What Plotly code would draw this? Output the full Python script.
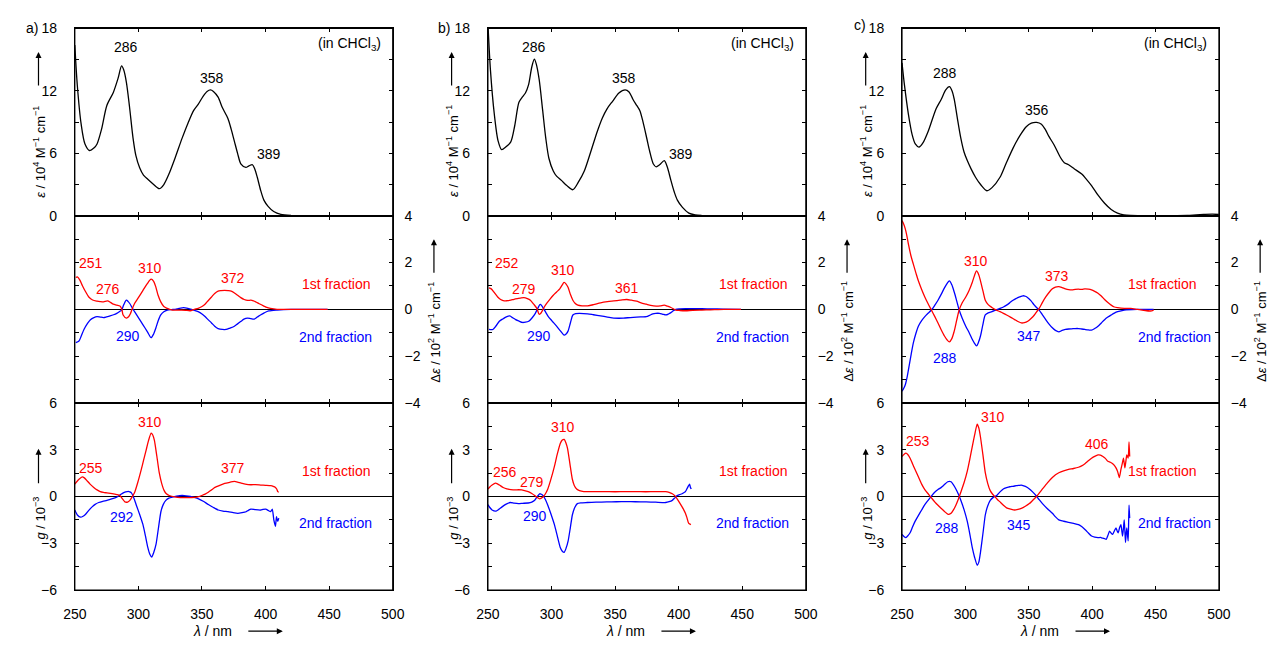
import plotly.graph_objects as go

# ---------------- DATA (wavelength nm, value) ----------------
a_abs = [(250,16.4),(252,12.5),(255,8.8),(258,6.9),(261.6,6.27),(265,6.5),(267.5,6.9),(271,8.3),(275.2,10.6),
         (280.3,11.85),(284,13.2),(286.8,14.4),(288.5,14.0),(290.6,12.8),(293,10.5),(295.8,7.46),(298,5.8),
         (301,4.6),(304,3.9),(307.4,3.5),(312,3.0),(316.4,2.6),(320,3.0),(324,4.0),(329,5.6),(334.4,7.46),
         (339,8.9),(343.4,10.1),(347,10.7),(351,11.5),(354,11.95),(356.7,12.1),(359,11.95),(362.7,11.4),
         (366,10.4),(370.4,9.35),(373,8.3),(375.5,7.15),(378,6.0),(380.7,4.95),(384.5,4.64),(387,4.8),
         (389.7,4.9),(391.5,4.5),(393.5,3.7),(396,2.5),(398.7,1.5),(402,0.9),(406.4,0.4),(412,0.12),(420,0.02)]
b_abs = [(250,18.5),(252,14.0),(255,9.8),(258,7.2),(260.8,6.36),(264,6.6),(268,7.1),(271,8.6),(274.4,10.9),
         (277,11.4),(279.5,11.8),(282,12.6),(284.5,14.3),(286.5,15.05),(288,14.6),(290.3,13.1),(293,10.2),
         (295.5,7.46),(298,5.5),(301.4,4.3),(304,3.8),(307.8,3.4),(312,2.9),(316.8,2.5),(321,3.2),(325.8,4.3),
         (331,6.2),(336,8.1),(340,9.4),(343.8,10.3),(348,11.0),(353,11.8),(357.9,12.1),(361,11.9),(364,11.2),
         (367,10.6),(369.5,10.1),(372,9.0),(375,7.4),(377.2,6.2),(380,5.0),(382.3,4.7),(385,4.9),(388.7,5.3),
         (391,4.7),(393.9,3.4),(396.5,2.3),(399,1.5),(403,0.8),(408,0.25),(413,0.08),(418,0.02)]
c_abs = [(250,14.7),(252,12.5),(255,9.8),(258,7.8),(260.5,6.9),(263.4,6.6),(266.5,7.0),(270.6,8.1),(274,9.3),
         (277,10.3),(281,11.2),(284.5,12.1),(287.4,12.4),(289.5,12.0),(291.2,11.2),(293.5,9.5),(296.4,7.46),
         (299,6.1),(301.5,5.3),(304.5,4.5),(308,3.7),(312,3.0),(317,2.4),(321,2.7),(327.3,3.7),(332,5.0),
         (337.6,6.5),(343,7.7),(348,8.56),(352,8.9),(356.2,8.97),(360,8.8),(363,8.3),(366,7.6),(370,6.8),
         (375,5.6),(378,5.1),(381.4,4.9),(386,4.5),(391.8,4.0),(395.5,3.5),(399.5,2.9),(404.5,2.0),(409.8,1.2),
         (415,0.6),(420,0.25),(425,0.08),(430.4,0.02),(440,0.0),(460,0.0),(475,0.02),(482,0.08),(488,0.12),
         (494.8,0.15),(500,0.12)]

a_cd_1st = [(250.8,1.36),(252,1.39),(254,1.25),(256,1.01),(258.5,0.75),(261,0.53),(264,0.4),(267.5,0.35),
            (270,0.33),(272.6,0.32),(275.7,0.36),(278,0.3),(280.3,0.22),(283,0.18),(285.5,0.14),(287,0.0),
            (288,-0.24),(290.6,-0.375),(292.3,-0.32),(293.7,-0.19),(295,0.0),(297,0.25),(300,0.5),(303.5,0.8),
            (307,1.1),(310,1.29),(312,1.2),(313.8,0.94),(315.5,0.6),(317.6,0.32),(320,0.12),(322.8,0.04),
            (326,-0.02),(329,-0.03),(334,-0.03),(337,-0.04),(340.8,-0.06),(344,0.0),(347,0.04),(350,0.12),
            (352.4,0.22),(355,0.38),(357.5,0.53),(360,0.68),(362.7,0.78),(365,0.8),(367.8,0.81),(370.5,0.8),
            (373,0.78),(375.5,0.7),(378,0.6),(380.5,0.5),(383.2,0.42),(386,0.38),(388.4,0.39),(390.5,0.36),
            (392.2,0.32),(395,0.24),(398.7,0.14),(401,0.08),(403.8,0.04),(409,0.0),(420,0.0),(435,0.0),(448.8,0.0)]
a_cd_2nd = [(250.8,-1.42),(253.3,-1.35),(255,-1.15),(257.2,-0.86),(260,-0.6),(262.3,-0.44),(265,-0.35),
            (267.5,-0.31),(270,-0.33),(272.6,-0.35),(275,-0.32),(277.8,-0.28),(280.5,-0.23),(283,-0.17),
            (285,-0.1),(286.8,-0.03),(288.5,0.2),(290.6,0.39),(292,0.33),(293.2,0.25),(295,0.08),(297,-0.1),
            (300,-0.35),(303.5,-0.65),(307,-0.95),(310,-1.21),(312,-1.05),(313.8,-0.79),(315.5,-0.5),
            (317.6,-0.24),(320,-0.1),(322.8,-0.03),(326,-0.01),(329,0.0),(332,0.04),(335.6,0.07),(338,0.05),
            (340.8,0.01),(344,-0.04),(347,-0.1),(350,-0.2),(352.4,-0.31),(355,-0.45),(357.5,-0.58),(360,-0.72),
            (362.7,-0.82),(366,-0.86),(369,-0.86),(372,-0.8),(375.5,-0.72),(378,-0.62),(380.7,-0.51),(383,-0.42),
            (385.8,-0.375),(388.5,-0.4),(391,-0.42),(393.5,-0.33),(396,-0.24),(399,-0.15),(402.5,-0.07),
            (409,-0.03),(420,0.0),(435,0.0),(448.8,0.0)]
b_cd_1st = [(250.8,0.92),(252.6,0.875),(255,0.72),(257.7,0.53),(260,0.42),(262.8,0.36),(265.5,0.37),(268,0.39),
            (270.5,0.43),(273.1,0.46),(275.5,0.48),(278.3,0.5),(281,0.46),(283.4,0.39),(286,0.22),(288.5,0.04),
            (290.3,-0.21),(291.4,-0.18),(292.4,-0.1),(294,0.07),(296.2,0.25),(299,0.45),(301.4,0.6),(304,0.74),
            (306.5,0.875),(308.5,1.05),(309.9,1.15),(311.5,1.08),(313,0.94),(315,0.62),(316.8,0.39),(318.5,0.26),
            (320.7,0.18),(324,0.15),(328.4,0.15),(333,0.2),(338.6,0.28),(344,0.33),(349,0.36),(354,0.39),
            (359.2,0.42),(363,0.39),(366.9,0.35),(370.5,0.28),(374.6,0.22),(378,0.17),(382.3,0.14),(385.5,0.15),
            (388.7,0.18),(391,0.14),(393.9,0.08),(397.7,-0.03),(401,-0.05),(405.4,-0.06),(411,-0.04),
            (418.3,-0.03),(425,-0.02),(431.1,-0.01),(440,0.0),(449,0.0)]
b_cd_2nd = [(250.8,-0.86),(253.9,-0.86),(256.5,-0.7),(259,-0.51),(262,-0.4),(264.5,-0.32),(267.2,-0.28),
            (269.5,-0.36),(271.8,-0.44),(274.5,-0.5),(277,-0.56),(279.5,-0.55),(282.1,-0.51),(284.5,-0.38),
            (287.3,-0.17),(289.3,0.05),(291.1,0.21),(292.4,0.15),(293.7,0.04),(295.5,-0.13),(297.5,-0.31),
            (300.5,-0.5),(304,-0.72),(307,-0.92),(309.9,-1.1),(311.5,-1.05),(313,-0.93),(315,-0.55),(316.8,-0.24),
            (319,-0.18),(322,-0.17),(328.4,-0.19),(333,-0.23),(338.6,-0.28),(344,-0.33),(349,-0.375),(353,-0.38),
            (356.6,-0.375),(362,-0.35),(366.9,-0.33),(371,-0.32),(374.6,-0.31),(377,-0.26),(379.7,-0.19),
            (382,-0.17),(384.9,-0.17),(387.5,-0.21),(390,-0.24),(392,-0.2),(393.9,-0.14),(395.8,-0.06),
            (397.7,0.0),(401,0.02),(405.4,0.03),(412,0.03),(418.3,0.03),(425,0.02),(435,0.01),(449,0.0)]
c_cd_1st = [(250,3.79),(251.3,3.65),(252.6,3.44),(254,3.1),(255.2,2.75),(257,2.3),(259,1.92),(261,1.55),
            (262.9,1.22),(265.5,0.85),(268,0.53),(270.5,0.25),(273.2,-0.03),(275.8,-0.3),(278.4,-0.58),(281,-0.88),
            (283.5,-1.14),(285.5,-1.3),(287.4,-1.39),(289.3,-1.25),(291.2,-0.93),(293.2,-0.45),(295.1,-0.03),
            (297.5,0.28),(300.3,0.53),(303,0.82),(305.4,1.15),(307.2,1.45),(308.8,1.64),(310.4,1.5),(311.9,1.22),
            (313.8,0.8),(315.7,0.39),(318,0.2),(320.9,0.08),(324,-0.02),(327.3,-0.1),(330,-0.17),(332.5,-0.24),
            (335.5,-0.33),(338.9,-0.44),(341.5,-0.52),(344.1,-0.58),(346.5,-0.57),(349.2,-0.51),(352,-0.38),
            (354.4,-0.24),(356.3,-0.1),(358.2,0.04),(360.8,0.3),(363.4,0.53),(366,0.72),(368.6,0.875),(371,0.95),
            (373.7,0.97),(376.3,0.93),(378.9,0.875),(381.5,0.84),(384,0.83),(386.6,0.85),(389.2,0.86),
            (391.8,0.85),(394.3,0.875),(397,0.86),(399.5,0.83),(402,0.77),(404.6,0.69),(407.2,0.57),(409.8,0.42),
            (412.4,0.29),(415,0.18),(417.5,0.1),(420.1,0.07),(425.3,0.04),(430.4,0.04),(435.6,0.0),
            (440.7,-0.04),(445.9,-0.07),(448.5,-0.03)]
c_cd_2nd = [(250,-3.5),(251.3,-3.38),(252.6,-3.22),(254.2,-2.85),(255.7,-2.39),(257.3,-1.9),(259,-1.42),
            (261,-1.02),(262.9,-0.72),(265.5,-0.48),(268,-0.31),(270.5,-0.17),(273.2,-0.03),(275.8,0.17),
            (278.4,0.39),(281,0.65),(283.5,0.92),(285.5,1.1),(287.4,1.22),(289.3,1.05),(291.2,0.74),(293.2,0.35),
            (295.1,-0.03),(297.5,-0.38),(300.3,-0.72),(303,-1.0),(305.4,-1.28),(307.2,-1.45),(308.8,-1.56),
            (310.4,-1.4),(311.9,-1.14),(313.8,-0.65),(315.7,-0.24),(318,-0.15),(320.9,-0.1),(324,-0.03),
            (327.3,0.04),(330,0.1),(332.5,0.18),(335,0.28),(337.6,0.39),(340.2,0.47),(342.8,0.53),(345.4,0.58),
            (347.3,0.56),(349.2,0.5),(351.8,0.36),(354.4,0.18),(356.3,0.07),(358.2,-0.03),(360.8,-0.24),
            (363.4,-0.44),(366,-0.63),(368.6,-0.79),(371,-0.9),(373.7,-0.96),(376.3,-0.9),(378.9,-0.86),
            (381.5,-0.84),(384,-0.83),(386.6,-0.82),(389.2,-0.82),(391.8,-0.84),(394.3,-0.86),(397,-0.88),
            (399.5,-0.89),(402,-0.82),(404.6,-0.72),(407.2,-0.58),(409.8,-0.44),(412.4,-0.33),(415,-0.24),
            (417.5,-0.16),(420.1,-0.1),(425.3,-0.03),(435.6,0.0),(448.5,0.0)]

a_g_1st = [(250,0.8),(251.5,0.95),(253.3,1.11),(255.9,1.26),(257.5,1.2),(259.8,1.0),(262,0.8),(264.9,0.59),
           (267.5,0.43),(270,0.32),(272.5,0.27),(275.2,0.24),(278,0.21),(280.4,0.18),(283,0.13),(285.5,0.07),
           (287.5,-0.15),(289.4,-0.34),(291.5,-0.35),(293.3,-0.24),(295.2,0.0),(297.1,0.28),(299.5,0.9),
           (302.3,1.74),(304,2.3),(306.1,2.98),(308,3.6),(310,4.07),(311.3,3.95),(312.6,3.6),(314.5,2.6),
           (316.4,1.53),(318.3,0.85),(320.3,0.38),(322,0.18),(324.2,0.07),(329.3,-0.03),(333,-0.06),(337,-0.07),
           (341,-0.06),(344.7,-0.05),(347.5,0.0),(349.9,0.07),(352.5,0.16),(355,0.28),(357.5,0.43),(360.2,0.59),
           (364,0.72),(367.9,0.84),(371,0.9),(375.6,0.97),(378,0.93),(380.8,0.86),(384,0.8),(388.5,0.76),
           (392,0.77),(396.2,0.74),(400,0.72),(404,0.7),(406,0.66),(407.8,0.59),(409,0.45),(409.6,0.32),
           (410.4,0.28)]
a_g_2nd = [(250,-0.86),(252,-1.18),(254.6,-1.32),(256.5,-1.26),(258.5,-1.13),(261,-0.88),(263.6,-0.66),
           (266,-0.5),(268.8,-0.38),(272,-0.3),(275.2,-0.24),(279,-0.15),(283,-0.03),(285.5,0.1),(288.1,0.24),
           (290,0.3),(292,0.34),(293.3,0.3),(294.5,0.24),(296.5,-0.1),(298.4,-0.55),(301,-1.15),(303.6,-1.8),
           (305.5,-2.5),(307.4,-3.26),(309,-3.7),(310.5,-3.88),(312,-3.6),(313.9,-3.05),(315.8,-2.0),
           (317.7,-0.97),(319.6,-0.5),(321.6,-0.24),(324,-0.1),(326.7,-0.03),(330,0.03),(334.4,0.07),
           (337.5,0.05),(340.9,0.01),(344,-0.05),(347.3,-0.14),(351,-0.3),(355,-0.51),(359,-0.7),(362.8,-0.86),
           (366.5,-0.93),(370.5,-0.97),(374.5,-1.03),(378.2,-1.07),(381.5,-1.03),(384.7,-0.97),(386.5,-0.88),
           (388.5,-0.8),(392,-0.84),(396.2,-0.86),(398,-0.82),(400.1,-0.8),(402,-0.88),(404,-0.97),(405.3,-0.8),
           (406.5,-1.49),(407.8,-1.9),(408.6,-1.28),(409.6,-1.59),(410.4,-1.38)]
b_g_1st = [(250,0.49),(251.5,0.62),(253.3,0.74),(255.9,0.86),(257.5,0.82),(259.8,0.7),(262,0.58),(264.9,0.49),
           (268,0.45),(271.4,0.43),(274,0.44),(276.5,0.43),(279,0.38),(281.7,0.32),(284.5,0.2),(286.8,0.07),
           (288.8,-0.06),(290.7,-0.14),(292,-0.1),(293.3,-0.03),(295,0.15),(297.1,0.49),(299.5,1.1),(302.3,1.94),
           (304.5,2.7),(306.9,3.4),(308.5,3.62),(310,3.67),(311.3,3.45),(312.6,3.09),(314.5,2.1),(316.4,1.11),
           (318,0.7),(319.8,0.49),(322,0.38),(325.4,0.32),(333,0.32),(340.9,0.32),(350,0.31),(358,0.32),
           (366.6,0.32),(374,0.31),(382,0.32),(389.8,0.32),(392.5,0.27),(395,0.18),(397,0.05),(398.8,-0.14),
           (400.8,-0.4),(402.7,-0.66),(404,-0.85),(405.3,-1.07),(406.5,-1.35),(407.8,-1.7),(409.6,-1.8)]
b_g_2nd = [(250,-0.51),(251.5,-0.7),(253.3,-0.86),(256.4,-0.93),(258.5,-0.82),(261.1,-0.66),(264,-0.5),
           (267.5,-0.38),(270.5,-0.42),(273.9,-0.45),(277.5,-0.43),(281.7,-0.41),(284.5,-0.35),(286.8,-0.24),
           (288.8,0.0),(290.7,0.18),(292,0.15),(293.3,0.07),(295,-0.15),(297.1,-0.55),(299.5,-1.1),(302.3,-1.8),
           (304.5,-2.5),(306.9,-3.26),(308.5,-3.5),(310,-3.57),(311.5,-3.3),(313.1,-2.84),(314.8,-2.0),
           (316.4,-1.18),(318.3,-0.7),(320.3,-0.45),(323,-0.4),(328,-0.38),(335,-0.36),(343.5,-0.34),(351,-0.33),
           (358.9,-0.32),(366,-0.33),(374.4,-0.34),(382,-0.36),(389.8,-0.38),(392.5,-0.33),(395,-0.24),
           (397,-0.08),(398.8,0.07),(400.5,0.12),(402.7,0.18),(404,0.25),(405.3,0.32),(406.5,0.5),(407.8,0.7),
           (408.6,0.8),(409.2,0.6),(409.9,0.49)]
c_g_1st = [(250,2.57),(251.5,2.7),(253.1,2.78),(254.7,2.68),(256.4,2.46),(258.3,2.1),(260.3,1.74),(263,1.25),
           (265.5,0.8),(268,0.45),(270.6,0.18),(273.2,-0.08),(275.8,-0.34),(278.4,-0.56),(281,-0.76),
           (283.5,-0.95),(286.1,-1.13),(287.5,-1.12),(288.7,-1.07),(290.6,-0.85),(292.5,-0.55),(294.5,-0.15),
           (296.4,0.28),(299,0.9),(301.5,1.63),(303.5,2.4),(305.4,3.19),(307.3,3.95),(309.3,4.65),(310.6,4.4),
           (311.9,3.82),(313.8,2.7),(315.7,1.53),(317.6,0.85),(319.6,0.38),(321.5,0.15),(323.5,-0.03),
           (325.4,-0.2),(327.3,-0.34),(330,-0.55),(332.5,-0.72),(335.7,-0.8),(338.9,-0.86),(341.5,-0.82),
           (344.1,-0.76),(347.3,-0.62),(350.5,-0.45),(353,-0.25),(355.7,-0.03),(358.2,0.22),(360.8,0.49),
           (364.7,0.88),(368.6,1.22),(371.1,1.4),(373.7,1.53),(377.5,1.65),(381.4,1.74),(385.3,1.8),(389.2,1.88),
           (391.7,1.97),(394.3,2.11),(397,2.3),(399.5,2.46),(402,2.58),(404.6,2.67),(406.5,2.66),(408.5,2.57),
           (410.4,2.45),(412.4,2.26),(414.3,2.2),(416.2,2.11),(417.5,2.0),(418.8,1.84),(420.1,1.6),(421.4,1.22),
           (422.7,1.74),(423.7,2.1),(424.7,2.46),(425.8,1.84),(426.5,2.2),(427.3,2.67),(428.4,2.46),(429.1,3.5),
           (429.6,2.57)]
c_g_2nd = [(250,-2.42),(251.5,-2.55),(253.1,-2.63),(254.7,-2.5),(256.4,-2.32),(258.3,-1.95),(260.3,-1.59),
           (263,-1.2),(265.5,-0.86),(268,-0.52),(270.6,-0.24),(273.2,0.03),(275.8,0.28),(278.4,0.45),(281,0.59),
           (283.5,0.77),(286.1,0.95),(287.5,0.97),(288.7,0.95),(290.6,0.75),(292.5,0.49),(294.5,0.15),
           (296.4,-0.24),(299,-0.85),(301.5,-1.59),(303.5,-2.4),(305.4,-3.26),(307.3,-3.9),(309.3,-4.4),
           (310.6,-4.2),(311.9,-3.57),(313.8,-2.4),(315.7,-1.18),(317.6,-0.6),(319.6,-0.24),(322,-0.05),
           (324.7,0.07),(327.3,0.3),(329.9,0.49),(332.5,0.57),(335.1,0.63),(337.7,0.66),(340.2,0.7),(342.2,0.72),
           (344.1,0.74),(347.3,0.65),(350.5,0.49),(353,0.3),(355.7,0.07),(358.2,-0.2),(360.8,-0.45),
           (364.7,-0.78),(368.6,-1.07),(371.1,-1.3),(373.7,-1.49),(377.5,-1.58),(381.4,-1.65),(385.3,-1.72),
           (389.2,-1.8),(391.7,-1.92),(394.3,-2.11),(397,-2.33),(399.5,-2.53),(402,-2.6),(404.6,-2.63),
           (406.5,-2.62),(408.5,-2.67),(410,-2.7),(411.1,-2.74),(412.4,-2.5),(413.7,-2.22),(415,-2.35),
           (416.2,-2.42),(417.5,-2.2),(418.8,-2.0),(419.7,-2.2),(420.6,-2.32),(421.6,-2.0),(422.7,-1.8),
           (423.4,-2.2),(424,-2.53),(424.7,-2.0),(425.3,-1.49),(425.8,-2.2),(426.3,-2.94),(426.8,-2.4),
           (427.3,-2.0),(427.8,-2.4),(428.4,-2.84),(428.8,-1.5),(429.1,-0.55),(429.6,-1.38)]

# peak labels: (text, wavelength, value)
a_abs_labels = [("286", 290, 16.2), ("358", 358, 13.2), ("389", 402.8, 5.9)]
b_abs_labels = [("286", 286.1, 16.2), ("358", 357.3, 13.2), ("389", 402, 5.9)]
c_abs_labels = [("288", 284, 13.7), ("356", 356.8, 10.2)]
a_cd_labels_1st = [("251", 263.1, 1.96), ("276", 276.2, 0.875), ("310", 309.4, 1.75), ("372", 374.2, 1.33)]
a_cd_labels_2nd = [("290", 291.7, -1.125)]
b_cd_labels_1st = [("252", 264.7, 1.96), ("279", 278.5, 0.875), ("310", 309.4, 1.7), ("361", 359.6, 0.92)]
b_cd_labels_2nd = [("290", 290.1, -1.125)]
c_cd_labels_1st = [("310", 308, 2.08), ("373", 372.3, 1.42)]
c_cd_labels_2nd = [("288", 284, -2.08), ("347", 349.8, -1.125)]
a_g_labels_1st = [("255", 263.1, 1.81), ("310", 309.4, 4.8), ("377", 374.2, 1.81)]
a_g_labels_2nd = [("292", 287, -1.31)]
b_g_labels_1st = [("256", 263.1, 1.6), ("279", 284.7, 0.94), ("310", 309.4, 4.44)]
b_g_labels_2nd = [("290", 287, -1.25)]
c_g_labels_1st = [("253", 262.4, 3.56), ("310", 321.4, 5.1), ("406", 404, 3.4)]
c_g_labels_2nd = [("288", 285.8, -2.0), ("345", 342.6, -1.81)]

fraction_names = ["1st fraction", "2nd fraction"]
x_ticks = [250, 300, 350, 400, 450, 500]
abs_ticks = [0, 3, 6, 9, 12, 15, 18]
cd_ticks = [-4, -3, -2, -1, 0, 1, 2, 3, 4]
g_ticks = [-6, -4.5, -3, -1.5, 0, 1.5, 3, 4.5, 6]
panel_letters = ["a)", "b)", "c)"]

# ---------------- LAYOUT ----------------
W, H = 1280, 646
FONT = "Liberation Sans, Arial, Helvetica, sans-serif"
RED, BLUE = "#ff0000", "#0000ff"
cols_px = [(64, 388), (485, 809), (907, 1230)]
rows_px = [(21, 213), (213, 405), (405, 597)]
letter_px = [(20, 20), (440, 20), (864, 17)]

def px(x):
    return x / W

def py(y):
    return 1 - y / H

def xs(d):
    return [p[0] for p in d]

def ys(d):
    return [p[1] for p in d]

columns = [
    dict(abs=a_abs, cd=(a_cd_1st, a_cd_2nd), g=(a_g_1st, a_g_2nd), abs_lab=a_abs_labels,
         cd_lab=(a_cd_labels_1st, a_cd_labels_2nd), g_lab=(a_g_labels_1st, a_g_labels_2nd), frac_x=(455.2, 455.2)),
    dict(abs=b_abs, cd=(b_cd_1st, b_cd_2nd), g=(b_g_1st, b_g_2nd), abs_lab=b_abs_labels,
         cd_lab=(b_cd_labels_1st, b_cd_labels_2nd), g_lab=(b_g_labels_1st, b_g_labels_2nd), frac_x=(458.3, 458.3)),
    dict(abs=c_abs, cd=(c_cd_1st, c_cd_2nd), g=(c_g_1st, c_g_2nd), abs_lab=c_abs_labels,
         cd_lab=(c_cd_labels_1st, c_cd_labels_2nd), g_lab=(c_g_labels_1st, c_g_labels_2nd), frac_x=(455.1, 465)),
]

fig = go.Figure()
layout = dict(width=W, height=H, margin=dict(l=0, r=0, t=0, b=0), paper_bgcolor="white",
              plot_bgcolor="white", showlegend=False, font=dict(family=FONT, size=14, color="black"))
annotations = []
shapes = []

def axis_name(ci, ri):
    n = ci * 3 + ri + 1
    return ("x" if n == 1 else f"x{n}"), ("y" if n == 1 else f"y{n}"), n

def label_ann(xr, yr, text, x, y, color, size=14):
    return dict(x=x, y=y, xref=xr, yref=yr, text=text, showarrow=False, xanchor="center",
                yanchor="middle", font=dict(size=size, color=color, family=FONT))

for ci, col in enumerate(columns):
    L, R = cols_px[ci]
    for ri in range(3):
        xr, yr, n = axis_name(ci, ri)
        T, B = rows_px[ri]
        xkey = "xaxis" if n == 1 else f"xaxis{n}"
        ykey = "yaxis" if n == 1 else f"yaxis{n}"
        layout[xkey] = dict(domain=[px(L), px(R)], range=[250, 500], anchor=yr, showgrid=False,
                            zeroline=False, showline=True, linecolor="black", linewidth=1,
                            mirror="allticks", ticks="inside", ticklen=4, tickwidth=1,
                            tickcolor="black", tickmode="array", tickvals=x_ticks,
                            showticklabels=(ri == 2), ticklabelstandoff=11,
                            tickfont=dict(size=14, family=FONT, color="black"))
        if ri == 0:
            tv, tt, rng, side = abs_ticks, [str(v) if v % 6 == 0 else "" for v in abs_ticks], [0, 18], "left"
        elif ri == 1:
            tv, tt, rng, side = cd_ticks, [("−" + str(-v) if v < 0 else str(v)) if v % 2 == 0 else "" for v in cd_ticks], [-4, 4], "right"
        else:
            tv = g_ticks
            tt = [("−" + str(int(-v)) if v < 0 else str(int(v))) if v % 3 == 0 else "" for v in g_ticks]
            rng, side = [-6, 6], "left"
        layout[ykey] = dict(domain=[py(B), py(T)], range=rng, anchor=xr, side=side, showgrid=False,
                            zeroline=(ri > 0), zerolinecolor="black", zerolinewidth=1,
                            showline=True, linecolor="black", linewidth=1, mirror="allticks",
                            ticks="inside", ticklen=4, tickwidth=1, tickcolor="black",
                            tickmode="array", tickvals=tv, ticktext=tt,
                            ticklabelstandoff=(8 if side == "right" else 14),
                            tickfont=dict(size=14, family=FONT, color="black"))

        if ri == 0:
            d = col["abs"]
            fig.add_trace(go.Scatter(x=xs(d), y=ys(d), mode="lines", xaxis=xr, yaxis=yr,
                                     line=dict(color="black", width=1.3, shape="spline", smoothing=0.8)))
            for t, x, y in col["abs_lab"]:
                annotations.append(label_ann(xr, yr, t, x, y, "black"))
            rx = 250 + (R - 10 - L) / (R - L) * 250
            annotations.append(dict(x=rx, y=16.5, xref=xr, yref=yr, text="(in CHCl<sub>3</sub>)",
                                    showarrow=False, xanchor="right", yanchor="middle",
                                    font=dict(size=14, color="black", family=FONT)))
        else:
            pair = col["cd"] if ri == 1 else col["g"]
            labs = col["cd_lab"] if ri == 1 else col["g_lab"]
            sm = 0.8 if ri == 1 else 0.5
            for d, c in ((pair[1], BLUE), (pair[0], RED)):
                fig.add_trace(go.Scatter(x=xs(d), y=ys(d), mode="lines", xaxis=xr, yaxis=yr,
                                         line=dict(color=c, width=1.3, shape="spline", smoothing=sm)))
            for t, x, y in labs[0]:
                annotations.append(label_ann(xr, yr, t, x, y, RED))
            for t, x, y in labs[1]:
                annotations.append(label_ann(xr, yr, t, x, y, BLUE))
            fy = (1.08, -1.17) if ri == 1 else (1.62, -1.69)
            annotations.append(label_ann(xr, yr, fraction_names[0], col["frac_x"][0], fy[0], RED))
            annotations.append(label_ann(xr, yr, fraction_names[1], col["frac_x"][1], fy[1], BLUE))

    # heavier outer frame of the column
    shapes.append(dict(type="rect", xref="paper", yref="paper", x0=px(L), x1=px(R),
                       y0=py(rows_px[2][1]), y1=py(rows_px[0][0]), line=dict(color="black", width=1.2),
                       fillcolor="rgba(0,0,0,0)", layer="above"))

    # axis titles (rotated) and arrows
    def vtitle(xc, yc, text):
        annotations.append(dict(x=px(xc), y=py(yc), xref="paper", yref="paper", text=text, textangle=-90,
                                showarrow=False, xanchor="center", yanchor="middle",
                                font=dict(size=13, family=FONT, color="black")))

    def varrow(xc, y_head, y_tail):
        annotations.append(dict(x=px(xc), y=py(y_head), xref="paper", yref="paper", text="",
                                showarrow=True, ax=0, ay=(y_tail - y_head), axref="pixel", ayref="pixel",
                                arrowhead=2, arrowsize=1, arrowwidth=1.2, arrowcolor="black"))

    vtitle(L - 36, 147, "<i>ε</i> / 10<sup>4</sup> M<sup>−1</sup> cm<sup>−1</sup>")
    varrow(L - 37, 45, 80)
    vtitle(L - 36, 523, "<i>g</i> / 10<sup>−3</sup>")
    varrow(L - 37, 452, 488)
    vtitle(R + 42, 332, "Δ<i>ε</i> / 10<sup>2</sup> M<sup>−1</sup> cm<sup>−1</sup>")
    varrow(R + 42, 237, 272)

    annotations.append(dict(x=px(L + 140), y=py(639), xref="paper", yref="paper", text="<i>λ</i> / nm",
                            showarrow=False, xanchor="center", yanchor="middle",
                            font=dict(size=14, family=FONT, color="black")))
    annotations.append(dict(x=px(L + 212), y=py(639), xref="paper", yref="paper", text="",
                            showarrow=True, ax=-36, ay=0, axref="pixel", ayref="pixel",
                            arrowhead=2, arrowsize=1, arrowwidth=1.2, arrowcolor="black"))
    lx, ly = letter_px[ci]
    annotations.append(dict(x=px(lx), y=py(ly), xref="paper", yref="paper",
                            text=panel_letters[ci], showarrow=False, xanchor="center", yanchor="middle",
                            font=dict(size=14, family=FONT, color="black")))

layout["annotations"] = annotations
layout["shapes"] = shapes
fig.update_layout(**layout)
fig.write_html("out.html")
